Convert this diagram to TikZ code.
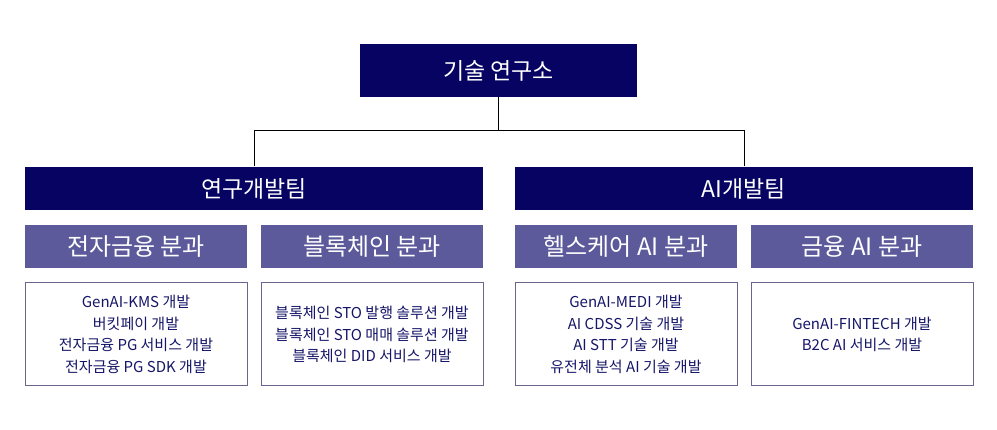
\documentclass[tikz,border=0pt]{standalone}
\usepackage{fontspec}
\setmainfont{Noto Sans CJK KR}
\definecolor{navy}{RGB}{6,3,98}
\definecolor{violet}{RGB}{92,90,155}
\definecolor{itemtext}{RGB}{22,22,105}
\definecolor{itemline}{RGB}{104,102,140}
\begin{document}
\begin{tikzpicture}[x=1pt, y=-1pt, line width=1pt,
    head/.style={fill=navy, draw=none, text=white, minimum width=277pt, minimum height=53pt, inner sep=0pt, font=\fontsize{23}{26}\selectfont},
    team/.style={fill=navy, draw=none, text=white, minimum width=458pt, minimum height=43pt, inner sep=0pt, font=\fontsize{23}{26}\selectfont},
    unit/.style={fill=violet, draw=none, text=white, minimum width=222pt, minimum height=43pt, inner sep=0pt, font=\fontsize{24}{27}\selectfont},
    task/.style={fill=white, draw=itemline, text=itemtext, minimum width=222pt, minimum height=103pt, inner sep=0pt, align=center, font=\fontsize{15}{21.7}\selectfont}
]
\useasboundingbox (0,0) rectangle (997,430);
% --- Leitung ---
\node[head] (lab) at (498.5,70.5) {기술 연구소};
% --- Teams ---
\node[team] (rd) at (254,188.5) {연구개발팀};
\node[team] (ai) at (744,188.5) {AI개발팀};
% --- Verbindungslinien ---
\draw (lab.south) -- ++(0,33) -| (rd.north);
\draw (lab.south) -- ++(0,33) -| (ai.north);
% --- Fachbereiche ---
\node[unit] (pay)  at (136,246.5) {전자금융 분과};
\node[unit] (chain) at (372,246.5) {블록체인 분과};
\node[unit] (care) at (626,246.5) {헬스케어 AI 분과};
\node[unit] (fin)  at (862,246.5) {금융 AI 분과};
% --- Aufgaben ---
\node[task] (paytask) at (136,334.5) {GenAI-KMS 개발\\버킷페이 개발\\전자금융 PG 서비스 개발\\전자금융 PG SDK 개발};
\node[task] (chaintask) at (372,334.5) {블록체인 STO 발행 솔루션 개발\\블록체인 STO 매매 솔루션 개발\\블록체인 DID 서비스 개발};
\node[task] (caretask) at (626,334.5) {GenAI-MEDI 개발\\AI CDSS 기술 개발\\AI STT 기술 개발\\유전체 분석 AI 기술 개발};
\node[task] (fintask) at (862,334.5) {GenAI-FINTECH 개발\\B2C AI 서비스 개발};
\end{tikzpicture}
\end{document}
